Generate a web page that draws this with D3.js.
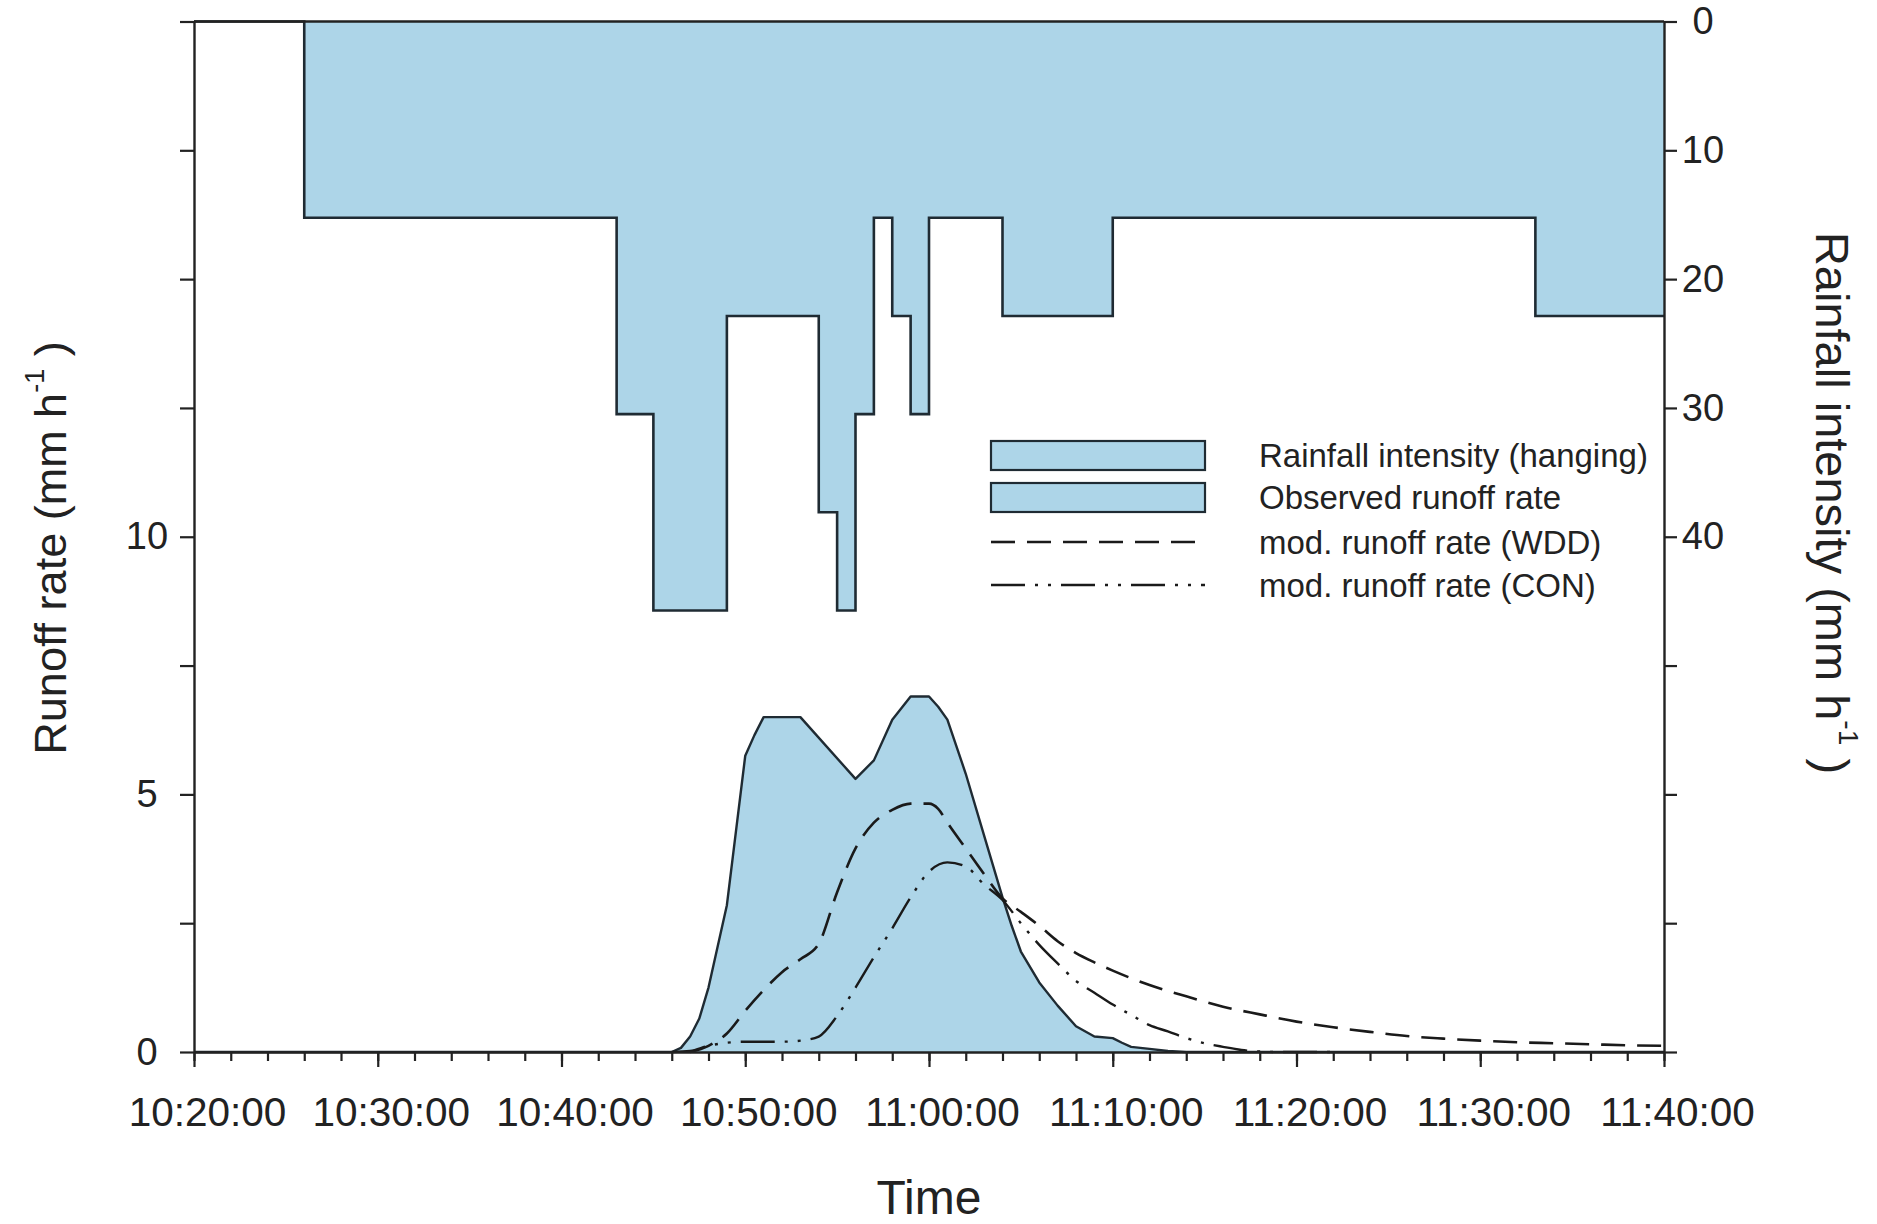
<!DOCTYPE html>
<html>
<head>
<meta charset="utf-8">
<script src="https://cdn.jsdelivr.net/npm/d3@7"></script>
<style>
  html, body { margin: 0; padding: 0; background: #ffffff; }
  svg { display: block; }
</style>
</head>
<body>
<div id="chart"></div>
<script>
// ---- data -------------------------------------------------------------
// Rainfall intensity (mm/h), step series: value holds from each time until the next
const rainTimes = ["10:20:00","10:26:00","10:43:00","10:45:00","10:49:00","10:54:00","10:55:00",
                   "10:56:00","10:57:00","10:58:00","10:59:00","11:00:00","11:04:00","11:10:00",
                   "11:33:00","11:40:00"];
const rainValues = [0, 15.24, 30.48, 45.72, 22.86, 38.1, 45.72,
                    30.48, 15.24, 22.86, 30.48, 15.24, 22.86, 15.24,
                    22.86, 22.86];

// Observed runoff rate (mm/h)
const obsTimes = ["10:20:00","10:46:00","10:46:30","10:47:00","10:47:30","10:48:00","10:49:00",
                  "10:50:00","10:50:30","10:51:00","10:53:00","10:56:00","10:57:00","10:58:00",
                  "10:59:00","11:00:00","11:00:30","11:01:00","11:02:00","11:03:00","11:04:00",
                  "11:04:30","11:05:00","11:06:00","11:07:00","11:08:00","11:09:00","11:10:00",
                  "11:10:30","11:11:00","11:12:00","11:13:00","11:14:00","11:40:00"];
const obsValues = [0, 0, 0.08, 0.3, 0.65, 1.25, 2.85,
                   5.75, 6.15, 6.5, 6.5, 5.3, 5.66, 6.45,
                   6.9, 6.9, 6.7, 6.45, 5.4, 4.2, 3.0,
                   2.45, 1.95, 1.35, 0.9, 0.5, 0.3, 0.27,
                   0.18, 0.1, 0.06, 0.02, 0, 0];

// Modelled runoff rate, WDD (mm/h)
const wddTimes = ["10:47:00","10:48:00","10:49:00","10:50:00","10:51:00","10:52:00","10:53:00",
                  "10:54:00","10:55:00","10:56:00","10:57:00","10:58:00","10:59:00","11:00:00",
                  "11:00:30","11:01:00","11:02:00","11:03:00","11:04:00","11:05:00","11:06:00",
                  "11:07:00","11:08:00","11:09:00","11:10:00","11:12:00","11:14:00","11:16:00",
                  "11:18:00","11:20:00","11:22:00","11:24:00","11:26:00","11:28:00","11:30:00",
                  "11:32:00","11:34:00","11:36:00","11:38:00","11:40:00"];
const wddValues = [0, 0.12, 0.36, 0.8, 1.2, 1.55, 1.8,
                   2.1, 3.1, 3.95, 4.45, 4.7, 4.82, 4.82,
                   4.72, 4.45, 3.95, 3.45, 2.98, 2.72, 2.45,
                   2.15, 1.92, 1.74, 1.58, 1.3, 1.08, 0.88,
                   0.73, 0.59, 0.48, 0.39, 0.31, 0.26, 0.22,
                   0.19, 0.17, 0.15, 0.13, 0.12];

// Modelled runoff rate, CON (mm/h)
const conTimes = ["10:46:00","10:47:00","10:48:00","10:49:00","10:50:00","10:51:00","10:52:00",
                  "10:53:00","10:54:00","10:55:00","10:56:00","10:57:00","10:58:00","10:59:00",
                  "11:00:00","11:01:00","11:02:00","11:03:00","11:04:00","11:05:00","11:06:00",
                  "11:07:00","11:08:00","11:09:00","11:10:00","11:11:00","11:12:00","11:13:00",
                  "11:14:00","11:15:00","11:16:00","11:17:00","11:18:00","11:19:00","11:22:00"];
const conValues = [0, 0.02, 0.12, 0.18, 0.2, 0.2, 0.2,
                   0.22, 0.3, 0.7, 1.25, 1.84, 2.4, 3.0,
                   3.5, 3.68, 3.6, 3.25, 2.95, 2.5, 2.08,
                   1.72, 1.38, 1.15, 0.92, 0.72, 0.52, 0.4,
                   0.27, 0.17, 0.1, 0.04, 0.01, 0, 0];

// Axis ticks and labels
const timeDomain = ["10:20:00", "11:40:00"];
const runoffTicks = [0, 2.5, 5, 7.5, 10, 12.5, 15, 17.5, 20];
const runoffLabels = [0, 5, 10];
const rainTicks = [0, 10, 20, 30, 40, 50, 60, 70, 80];
const rainLabels = [0, 10, 20, 30, 40];

const legendLabels = ["Rainfall intensity (hanging)", "Observed runoff rate",
                      "mod. runoff rate (WDD)", "mod. runoff rate (CON)"];

// ---- layout -----------------------------------------------------------
const W = 1877, H = 1224;
const plot = { left: 194, right: 1664, top: 21.5, bottom: 1052 };
const FONT = "'Liberation Sans', Arial, Helvetica, sans-serif";
const FILL = "#add5e8";
const EDGE = "#1f2b33";
const AXIS = "#222222";

const parse = d3.timeParse("%H:%M:%S");
const fmt = d3.timeFormat("%H:%M:%S");

const x = d3.scaleTime().domain(timeDomain.map(parse)).range([plot.left, plot.right]);
const yRun = d3.scaleLinear().domain([0, 20]).range([plot.bottom, plot.top]);
const yRain = d3.scaleLinear().domain([0, 80]).range([plot.top, plot.bottom]);

const zip = (ts, vs) => ts.map((t, i) => ({ t: parse(t), v: vs[i] }));
const rain = zip(rainTimes, rainValues);
const obs = zip(obsTimes, obsValues);
const wdd = zip(wddTimes, wddValues);
const con = zip(conTimes, conValues);

const svg = d3.select("#chart").append("svg")
  .attr("width", W).attr("height", H)
  .attr("viewBox", `0 0 ${W} ${H}`)
  .style("font-family", FONT);

svg.append("rect").attr("width", W).attr("height", H).attr("fill", "#fff");

// ---- rainfall (hanging from the top) ----------------------------------
svg.append("path")
  .datum(rain)
  .attr("d", d3.area().curve(d3.curveStepAfter)
    .x(d => x(d.t)).y0(yRain(0)).y1(d => yRain(d.v)))
  .attr("fill", FILL);

svg.append("path")
  .datum(rain)
  .attr("d", d3.line().curve(d3.curveStepAfter).x(d => x(d.t)).y(d => yRain(d.v)))
  .attr("fill", "none").attr("stroke", EDGE).attr("stroke-width", 2.6);

// ---- observed runoff --------------------------------------------------
svg.append("path")
  .datum(obs)
  .attr("d", d3.area().x(d => x(d.t)).y0(yRun(0)).y1(d => yRun(d.v)))
  .attr("fill", FILL);

svg.append("path")
  .datum(obs)
  .attr("d", d3.line().x(d => x(d.t)).y(d => yRun(d.v)))
  .attr("fill", "none").attr("stroke", EDGE).attr("stroke-width", 2.4)
  .attr("stroke-linejoin", "round");

// ---- modelled runoff --------------------------------------------------
const smooth = d3.line().curve(d3.curveMonotoneX).x(d => x(d.t)).y(d => yRun(d.v));
const WDD_DASH = "24,12";
const CON_DASH = "34,10,3,10,3,10";

svg.append("path").datum(wdd).attr("d", smooth)
  .attr("fill", "none").attr("stroke", "#1a1a1a").attr("stroke-width", 2.6)
  .attr("stroke-dasharray", WDD_DASH);

svg.append("path").datum(con).attr("d", smooth)
  .attr("fill", "none").attr("stroke", "#1a1a1a").attr("stroke-width", 2.4)
  .attr("stroke-dasharray", CON_DASH);

// ---- axes -------------------------------------------------------------
function styleAxis(g) {
  g.selectAll(".domain").attr("stroke", AXIS).attr("stroke-width", 2.4);
  g.selectAll(".tick line").attr("stroke", AXIS).attr("stroke-width", 2.2);
  g.selectAll(".tick text").attr("fill", "#222").style("font-family", FONT);
}

// bottom: minor ticks every 2 minutes, labelled majors every 10
const minorTicks = x.ticks(d3.timeMinute.every(2));
const majorTicks = x.ticks(d3.timeMinute.every(10));

svg.append("g")
  .attr("transform", `translate(0,${plot.bottom})`)
  .call(d3.axisBottom(x).tickValues(minorTicks).tickSize(9).tickSizeOuter(0).tickFormat(""))
  .call(styleAxis);

svg.append("g")
  .attr("transform", `translate(0,${plot.bottom})`)
  .call(d3.axisBottom(x).tickValues(majorTicks).tickSize(15).tickSizeOuter(0).tickFormat(fmt))
  .call(styleAxis)
  .call(g => g.select(".domain").remove())
  .call(g => g.selectAll(".tick text")
    .attr("font-size", 40.5).attr("x", 13).attr("y", 45).attr("dy", "0.71em"));

// left: runoff rate (labels centred in a column)
svg.append("g")
  .attr("transform", `translate(${plot.left},0)`)
  .call(d3.axisLeft(yRun).tickValues(runoffTicks).tickSize(14).tickSizeOuter(0)
    .tickFormat(d => runoffLabels.includes(d) ? d : ""))
  .call(styleAxis)
  .call(g => g.selectAll(".tick text")
    .attr("font-size", 38).attr("text-anchor", "middle").attr("x", -47));

// right: rainfall intensity (reversed)
svg.append("g")
  .attr("transform", `translate(${plot.right},0)`)
  .call(d3.axisRight(yRain).tickValues(rainTicks).tickSize(13).tickSizeOuter(0)
    .tickFormat(d => rainLabels.includes(d) ? d : ""))
  .call(styleAxis)
  .call(g => g.selectAll(".tick text")
    .attr("font-size", 38).attr("text-anchor", "middle").attr("x", 39));

// top frame line
svg.append("line")
  .attr("x1", plot.left).attr("x2", plot.right)
  .attr("y1", plot.top).attr("y2", plot.top)
  .attr("stroke", AXIS).attr("stroke-width", 2.4);

// ---- axis titles ------------------------------------------------------
svg.append("text")
  .attr("x", (plot.left + plot.right) / 2).attr("y", 1214)
  .attr("text-anchor", "middle").attr("font-size", 48).attr("fill", "#222")
  .text("Time");

function unitTitle(g, label) {
  g.append("tspan").text(label + " (mm h");
  g.append("tspan").attr("baseline-shift", "super").attr("font-size", "60%").text("-1");
  g.append("tspan").text(" )");
}

svg.append("text")
  .attr("transform", "translate(50,548) rotate(-90)")
  .attr("text-anchor", "middle").attr("dominant-baseline", "central")
  .attr("font-size", 45).attr("fill", "#222")
  .call(g => unitTitle(g, "Runoff rate"));

svg.append("text")
  .attr("transform", "translate(1833,503) rotate(90)")
  .attr("text-anchor", "middle").attr("dominant-baseline", "central")
  .attr("font-size", 47).attr("fill", "#222")
  .call(g => unitTitle(g, "Rainfall intensity"));

// ---- legend -----------------------------------------------------------
const legend = svg.append("g").attr("transform", "translate(991,0)");
const rowY = [455, 497, 542, 585];
const keyW = 214;

[0, 1].forEach(i => {
  legend.append("rect")
    .attr("x", 0).attr("y", rowY[i] - 14).attr("width", keyW).attr("height", 29)
    .attr("fill", FILL).attr("stroke", EDGE).attr("stroke-width", 2.2);
});
legend.append("line").attr("x1", 0).attr("x2", keyW).attr("y1", rowY[2]).attr("y2", rowY[2])
  .attr("stroke", "#1a1a1a").attr("stroke-width", 2.6).attr("stroke-dasharray", WDD_DASH);
legend.append("line").attr("x1", 0).attr("x2", keyW).attr("y1", rowY[3]).attr("y2", rowY[3])
  .attr("stroke", "#1a1a1a").attr("stroke-width", 2.4).attr("stroke-dasharray", CON_DASH);

legend.selectAll("text.lbl").data(legendLabels).join("text")
  .attr("class", "lbl")
  .attr("x", 268).attr("y", (d, i) => rowY[i])
  .attr("dominant-baseline", "central")
  .attr("font-size", 33).attr("fill", "#222")
  .text(d => d);
</script>
</body>
</html>
